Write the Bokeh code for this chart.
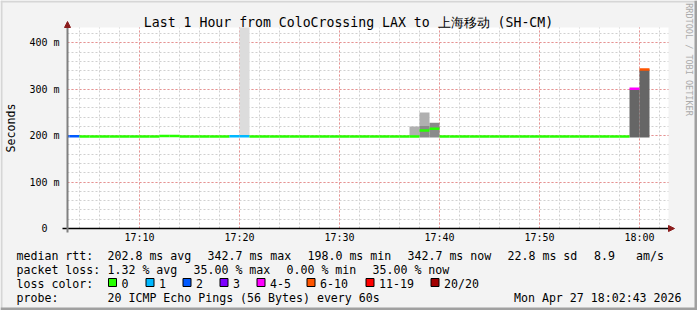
import math
from bokeh.plotting import figure
from bokeh.models import (Range1d, FixedTicker, Label, BoxAnnotation, Arrow,
                          NormalHead, ColumnDataSource, Grid)
from bokeh.embed import file_html
from bokeh.resources import INLINE

# ---------------- data ----------------
title_text = "Last 1 Hour from ColoCrossing LAX to 上海移动 (SH-CM)"

# minutes after 17:00; every step covers 60 s starting at that minute
step_start_min = list(range(2, 61))
median_ms = [
    198.5, 198.5,
    198.4, 198.4, 198.4, 198.4, 198.4, 198.4, 198.4, 198.4,
    199.4, 199.4,
    198.4, 198.4, 198.4, 198.4, 198.4,
    198.6, 198.6,
    198.4, 198.4, 198.4, 198.4, 198.4, 198.4, 198.4, 198.4,
    198.4, 198.4, 198.4, 198.4, 198.4, 198.4, 198.4, 198.4,
    198.4, 211.0, 215.0,
    198.4, 198.4, 198.4, 198.4, 198.4, 198.4, 198.4, 198.4, 198.4, 198.4,
    198.4, 198.4, 198.4, 198.4, 198.4, 198.4, 198.4, 198.4, 198.4,
    301.0, 342.7,
]
loss_count = [
    2, 2,
    0, 0, 0, 0, 0, 0, 0, 0,
    0, 0,
    0, 0, 0, 0, 0,
    1, 1,
    0, 0, 0, 0, 0, 0, 0, 0,
    0, 0, 0, 0, 0, 0, 0, 0,
    0, 0, 0,
    0, 0, 0, 0, 0, 0, 0, 0, 0, 0,
    0, 0, 0, 0, 0, 0, 0, 0, 0,
    4, 7,
]

# smoke (ping spread) bands; the 17:20 band runs past the top of the chart
smoke_step_min = [20, 37, 38, 38, 39, 59, 60]
smoke_lo_ms = [199.0, 199.0, 221.0, 196.0, 196.0, 196.0, 196.0]
smoke_hi_ms = [433.0, 220.0, 250.0, 221.0, 228.0, 301.0, 342.7]
smoke_band = ["faint", "light", "light", "medium", "medium", "dark", "dark"]

x_tick_min = [10, 20, 30, 40, 50, 60]
x_tick_labels = ["17:10", "17:20", "17:30", "17:40", "17:50", "18:00"]
y_tick_s = [0.0, 0.1, 0.2, 0.3, 0.4]
y_tick_labels = ["0", "100 m", "200 m", "300 m", "400 m"]

loss_legend_labels = ["0", "1", "2", "3", "4-5", "6-10", "11-19", "20/20"]
loss_legend_upper = [0, 1, 2, 3, 5, 10, 19, 20]

stats_rtt = ["median rtt:", "202.8 ms avg", "342.7 ms max", "198.0 ms min",
             "342.7 ms now", "22.8 ms sd", "8.9", "am/s"]
stats_loss = ["packet loss:", "1.32 % avg", "35.00 % max", "0.00 % min", "35.00 % now"]
loss_color_label = "loss color:"
probe_label = "probe:"
probe_text = "20 ICMP Echo Pings (56 Bytes) every 60s"
timestamp_text = "Mon Apr 27 18:02:43 2026"
credit_text = "RRDTOOL / TOBI OETIKER"
y_axis_label = "Seconds"

# ---------------- styles / layout ----------------
loss_palette = ["#26ff00", "#00b8ff", "#0059ff", "#7e00ff", "#ff00ff",
                "#ff5500", "#ff0000", "#a10000"]
smoke_palette = {"faint": "#dcdcdc", "light": "#b0b0b0",
                 "medium": "#8a8a8a", "dark": "#666666"}
MONO = "DejaVu Sans Mono"

W, H = 697, 310
FL, FT, FR, FB = 67, 27, 668, 228      # plot area inside the canvas
X0, X1 = 2.8, 62.9                      # minutes after 17:00 at the plot-area edges
Y0, Y1 = 0.0, 0.433                     # seconds at the plot-area edges


def dx(cx):
    return X0 + (cx - FL) * (X1 - X0) / (FR - FL)


def dy(cy):
    return Y0 + (FB - cy) * (Y1 - Y0) / (FB - FT)


def loss_color(n):
    for up, c in zip(loss_legend_upper, loss_palette):
        if n <= up:
            return c
    return loss_palette[-1]


# the frame covers the whole canvas; the plot area is a region inside it
p = figure(width=W, height=H, output_backend="svg", toolbar_location=None,
           x_range=Range1d(dx(0), dx(W)), y_range=Range1d(dy(H), dy(0)),
           min_border=0, min_border_left=0, min_border_right=0,
           min_border_top=0, min_border_bottom=0,
           background_fill_color="#f3f3f3", border_fill_color="#f3f3f3",
           outline_line_color=None)
p.title.visible = False

# white plot area
p.quad(left=X0, right=X1, bottom=Y0, top=Y1, fill_color="white",
       line_color=None, level="image")

# axes (fixed inside the canvas)
p.xaxis.fixed_location = Y0
p.yaxis.fixed_location = X0
p.xaxis.ticker = FixedTicker(ticks=x_tick_min, minor_ticks=list(range(4, 63, 2)))
p.yaxis.ticker = FixedTicker(ticks=y_tick_s,
                             minor_ticks=[round(0.02 * k, 2) for k in range(1, 22)])
p.xaxis.major_label_overrides = dict(zip(x_tick_min, x_tick_labels))
p.yaxis.major_label_overrides = {
    v: (lab if len(lab) > 1 else lab + "\u00a0\u00a0")
    for v, lab in zip(y_tick_s, y_tick_labels)}
for ax in p.axis:
    ax.major_tick_line_color = None
    ax.minor_tick_line_color = None
    ax.major_tick_out = 0
    ax.major_tick_in = 0
    ax.minor_tick_out = 0
    ax.minor_tick_in = 0
    ax.major_label_text_font = MONO
    ax.major_label_text_font_size = "10px"
    ax.major_label_text_color = "black"
p.xaxis.bounds = (dx(62), X1)
p.xaxis.axis_line_color = "black"
p.xaxis.axis_line_width = 1.5
p.yaxis.bounds = (dy(232), dy(26))
p.yaxis.axis_line_color = "#808080"
p.yaxis.axis_line_width = 2
p.xaxis.major_label_standoff = 3
p.yaxis.major_label_standoff = 8

# grid restricted to the plot area
grid_style = dict(grid_line_color="#f08080", grid_line_alpha=0.8, grid_line_dash="2 2",
                  minor_grid_line_color="#d0d0d0", minor_grid_line_dash="2 2")
if "cross_bounds" in Grid.properties():
    p.xgrid.bounds = (X0, X1)
    p.xgrid.cross_bounds = (Y0, Y1)
    p.ygrid.bounds = (Y0, Y1)
    p.ygrid.cross_bounds = (X0, X1)
    for g in (p.xgrid, p.ygrid):
        for k, v in grid_style.items():
            setattr(g, k, v)
else:
    for g in (p.xgrid, p.ygrid):
        g.visible = False
    xmin = list(range(4, 63, 2))
    ymin = [round(0.02 * k, 2) for k in range(1, 22)]
    p.segment(x0=[m for m in xmin if m % 10], x1=[m for m in xmin if m % 10],
              y0=Y0, y1=Y1, line_color="#d0d0d0", line_dash="2 2", level="underlay")
    p.segment(x0=X0, x1=X1, y0=[v for v in ymin if round(v * 100) % 10],
              y1=[v for v in ymin if round(v * 100) % 10],
              line_color="#d0d0d0", line_dash="2 2", level="underlay")
    p.segment(x0=x_tick_min, x1=x_tick_min, y0=Y0, y1=Y1, line_color="#f08080",
              line_alpha=0.8, line_dash="2 2", level="underlay")
    p.segment(x0=X0, x1=X1, y0=y_tick_s[1:], y1=y_tick_s[1:], line_color="#f08080",
              line_alpha=0.8, line_dash="2 2", level="underlay")

# smoke
smoke_src = ColumnDataSource(dict(
    left=smoke_step_min,
    right=[m + 1 for m in smoke_step_min],
    bottom=[v / 1000 for v in smoke_lo_ms],
    top=[min(v / 1000, Y1) for v in smoke_hi_ms],
    color=[smoke_palette[b] for b in smoke_band],
))
p.quad(left="left", right="right", bottom="bottom", top="top",
       fill_color="color", line_color=None, source=smoke_src)

# median rtt, coloured by loss
med_src = ColumnDataSource(dict(
    x0=[max(m, X0) for m in step_start_min],
    x1=[m + 1 for m in step_start_min],
    y=[v / 1000 for v in median_ms],
    color=[loss_color(n) for n in loss_count],
))
p.segment(x0="x0", y0="y", x1="x1", y1="y", line_color="color",
          line_width=2.5, source=med_src)

# arrow heads
for xs, ys, xe, ye in [(dx(667), Y0, dx(674), Y0), (X0, dy(28), X0, dy(21))]:
    p.add_layout(Arrow(x_start=xs, y_start=ys, x_end=xe, y_end=ye, line_alpha=0,
                       end=NormalHead(size=6, fill_color="#8b1c1c",
                                      line_color="#8b1c1c")))


def txt(cx, cy, s, size="11.6px", align="left", baseline="alphabetic",
        angle=0.0, color="black"):
    p.add_layout(Label(x=dx(cx), y=dy(cy), text=s, text_font=MONO,
                       text_font_size=size, text_align=align,
                       text_baseline=baseline, angle=angle, text_color=color))


# title and side texts
txt(348, 22, title_text, size="13.2px", align="center")
txt(10, 127.5, y_axis_label, align="center", baseline="middle", angle=math.pi / 2)
txt(688.5, 59, credit_text, size="8.5px", align="center", baseline="middle",
    angle=-math.pi / 2, color="#aaaaaa")

# statistics
BL = [255, 269, 283, 297]   # text baselines of the four legend rows
for s, cx in zip(stats_rtt, [16, 107, 207, 307, 407, 507, 593.5, 635.5]):
    txt(cx, BL[0], s)
for s, cx in zip(stats_loss, [16, 107, 193, 286, 372]):
    txt(cx, BL[1], s)
txt(16, BL[2], loss_color_label)
for lab, c, cx in zip(loss_legend_labels, loss_palette,
                      [108, 145.5, 182.5, 219.5, 256.5, 306.5, 365.5, 430.5]):
    p.add_layout(BoxAnnotation(left=dx(cx), right=dx(cx + 8), top=dy(278),
                               bottom=dy(286), fill_color=c, fill_alpha=1.0,
                               line_color="black", line_alpha=1.0, line_width=1,
                               level="overlay"))
    txt(cx + 13, BL[2], lab)
txt(16, BL[3], probe_label)
txt(107, BL[3], probe_text)
txt(681, BL[3], timestamp_text, align="right")

# 3-D frame around the picture
for l, r, t, b, c in [(0, W, 0, 2, "#d6d6d6"), (0, 2, 0, H, "#d6d6d6"),
                      (W - 3, W, 0, H, "#a0a0a0"), (0, W, H - 3, H, "#a0a0a0")]:
    p.add_layout(BoxAnnotation(left=dx(l), right=dx(r), top=dy(t), bottom=dy(b),
                               fill_color=c, fill_alpha=1.0, line_color=None,
                               level="overlay"))

open("out.html", "w").write(file_html(p, INLINE))
